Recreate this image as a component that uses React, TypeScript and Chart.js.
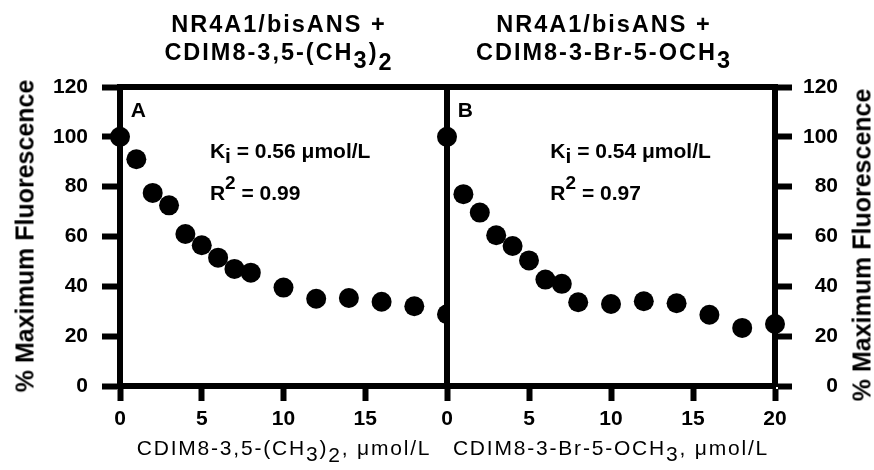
import React, { useEffect, useRef } from 'react';
import { Chart, registerables } from 'chart.js';

Chart.register(...registerables);

// CDIM8 concentration (µmol/L) and % max fluorescence
const concA = [0, 1, 2, 3, 4, 5, 6, 7, 8, 10, 12, 14, 16, 18, 20];
const fluorA = [100, 91, 77.5, 72.5, 61, 56.5, 51.5, 47, 45.5, 39.5, 35, 35.3, 33.8, 32, 28.8];

const concB = [0, 1, 2, 3, 4, 5, 6, 7, 8, 10, 12, 14, 16, 18, 20];
const fluorB = [100, 77, 69.6, 60.5, 56.2, 50.4, 42.7, 41, 33.6, 32.9, 34, 33.2, 28.6, 23.3, 24.9];

const yTicks = [0, 20, 40, 60, 80, 100, 120];
const xTicksA = [0, 5, 10, 15];
const xTicksB = [0, 5, 10, 15, 20];

const FONT = "'Liberation Sans', Arial, Helvetica, sans-serif";
const W = 874;
const H = 470;
const PLOT_TOP = 87;
const PLOT_BOTTOM = 386;
const LINE = 6;

Chart.defaults.font.family = FONT;

type Run = { t: string; dy?: number; size?: number };

function drawRuns(ctx: CanvasRenderingContext2D, runs: Run[], x: number, y: number, size: number) {
  let cx = x;
  runs.forEach((r) => {
    ctx.font = `bold ${r.size || size}px ${FONT}`;
    ctx.fillText(r.t, cx, y + (r.dy || 0));
    cx += ctx.measureText(r.t).width;
  });
}

interface PanelProps {
  side: 'left' | 'right';
  conc: number[];
  fluor: number[];
  xTicks: number[];
  letter: string;
  ki: string;
  r2: string;
  noteX: number;
  boxLeft: number;
  boxWidth: number;
  plotLeft: number;
  plotRight: number;
  labelRight: number;
}

const Panel: React.FC<PanelProps> = (p) => {
  const canvasRef = useRef<HTMLCanvasElement>(null);

  useEffect(() => {
    if (!canvasRef.current) return;
    const isLeft = p.side === 'left';
    const localLeft = p.plotLeft - p.boxLeft;
    const localRight = p.plotRight - p.boxLeft;
    const localLabelRight = p.labelRight - p.boxLeft;
    const tickFont = { family: FONT, size: 21, weight: 'bold' as const };

    // top line + the inner vertical edge of the box
    const framePlugin = {
      id: 'frame',
      afterDraw(chart: Chart) {
        const { ctx, chartArea: a } = chart;
        const edge = isLeft ? a.right : a.left;
        ctx.save();
        ctx.strokeStyle = '#000';
        ctx.lineWidth = LINE;
        ctx.lineCap = 'square';
        ctx.beginPath();
        ctx.moveTo(a.left, a.top);
        ctx.lineTo(a.right, a.top);
        ctx.moveTo(edge, a.top);
        ctx.lineTo(edge, a.bottom);
        ctx.stroke();
        ctx.restore();
      },
    };

    const notesPlugin = {
      id: 'notes',
      afterDatasetsDraw(chart: Chart) {
        const { ctx } = chart;
        const xs = chart.scales.x;
        const ys = chart.scales.y;
        ctx.save();
        ctx.fillStyle = '#000';
        ctx.textBaseline = 'alphabetic';
        ctx.textAlign = 'left';
        drawRuns(ctx, [{ t: p.letter }], xs.getPixelForValue(0.65), ys.getPixelForValue(108), 21);
        drawRuns(
          ctx,
          [{ t: 'K' }, { t: 'i', dy: 5 }, { t: ` = ${p.ki} \u03bcmol/L` }],
          xs.getPixelForValue(p.noteX),
          ys.getPixelForValue(91.5),
          21,
        );
        drawRuns(
          ctx,
          [{ t: 'R' }, { t: '2', dy: -11, size: 19 }, { t: ` = ${p.r2}` }],
          xs.getPixelForValue(p.noteX),
          ys.getPixelForValue(74.7),
          21,
        );
        ctx.restore();
      },
    };

    const chart = new Chart(canvasRef.current, {
      type: 'scatter',
      data: {
        datasets: [
          {
            data: p.conc.map((x, i) => ({ x, y: p.fluor[i] })),
            pointRadius: 10,
            pointHoverRadius: 10,
            pointBackgroundColor: '#000',
            pointBorderWidth: 0,
            clip: isLeft ? { left: false, top: false, right: 0, bottom: false } : false,
          },
        ],
      },
      options: {
        animation: false,
        responsive: false,
        events: [],
        layout: {
          padding: {
            top: PLOT_TOP,
            bottom: 0,
            left: isLeft ? 0 : localLeft,
            right: isLeft ? p.boxWidth - localRight : p.boxWidth - localLabelRight,
          },
        },
        scales: {
          x: {
            type: 'linear',
            min: 0,
            max: 20,
            afterBuildTicks: (s: any) => {
              s.ticks = p.xTicks.map((value) => ({ value }));
            },
            afterFit: (s: any) => {
              s.height = H - PLOT_BOTTOM;
            },
            ticks: { font: tickFont, color: '#000', padding: 6, maxRotation: 0, autoSkip: false },
            grid: { drawOnChartArea: false, tickLength: 15, tickWidth: LINE, tickColor: '#000' },
            border: { width: LINE, color: '#000' },
          },
          y: {
            type: 'linear',
            position: p.side,
            min: 0,
            max: 120,
            afterBuildTicks: (s: any) => {
              s.ticks = yTicks.map((value) => ({ value }));
            },
            afterFit: (s: any) => {
              s.width = isLeft ? localLeft : localLabelRight - localRight;
            },
            ticks: {
              font: tickFont,
              color: '#000',
              padding: isLeft ? 14 : 7,
              crossAlign: isLeft ? 'near' : 'far',
            },
            grid: { drawOnChartArea: false, tickLength: isLeft ? 18 : 17, tickWidth: LINE, tickColor: '#000' },
            border: { width: LINE, color: '#000' },
          },
        },
        plugins: { legend: { display: false }, tooltip: { enabled: false } },
      },
      plugins: [framePlugin, notesPlugin],
    });

    return () => {
      chart.destroy();
    };
  }, [p]);

  return (
    <canvas
      ref={canvasRef}
      width={p.boxWidth}
      height={H}
      style={{ position: 'absolute', left: p.boxLeft, top: 0, width: p.boxWidth, height: H }}
    />
  );
};

const sub = (t: string, dy: number) => <span style={{ position: 'relative', top: dy }}>{t}</span>;

const titleStyle = (center: number): React.CSSProperties => ({
  position: 'absolute',
  left: center - 160,
  width: 320,
  top: 11,
  textAlign: 'center',
  font: `bold 23.5px ${FONT}`,
  lineHeight: '27.5px',
  letterSpacing: 2,
  whiteSpace: 'nowrap',
  color: '#000',
});

const xTitleStyle = (center: number): React.CSSProperties => ({
  position: 'absolute',
  left: center - 200,
  width: 400,
  top: 437,
  textAlign: 'center',
  font: `21px ${FONT}`,
  lineHeight: '21px',
  letterSpacing: 1.8,
  whiteSpace: 'nowrap',
  color: '#000',
});

const yTitleStyle = (cx: number, cy: number): React.CSSProperties => ({
  position: 'absolute',
  left: cx,
  top: cy,
  transform: 'translate(-50%, -50%) rotate(-90deg)',
  font: `bold 25px ${FONT}`,
  lineHeight: '25px',
  whiteSpace: 'nowrap',
  color: '#000',
});

const panelA = {
  side: 'left' as const,
  conc: concA,
  fluor: fluorA,
  xTicks: xTicksA,
  letter: 'A',
  ki: '0.56',
  r2: '0.99',
  noteX: 5.5,
  boxLeft: 0,
  boxWidth: 470,
  plotLeft: 120,
  plotRight: 447,
  labelRight: 447,
};

const panelB = {
  side: 'right' as const,
  conc: concB,
  fluor: fluorB,
  xTicks: xTicksB,
  letter: 'B',
  ki: '0.54',
  r2: '0.97',
  noteX: 6.3,
  boxLeft: 430,
  boxWidth: 444,
  plotLeft: 447,
  plotRight: 775,
  labelRight: 838,
};

export default function App() {
  return (
    <div style={{ position: 'absolute', left: 0, top: 0, width: W, height: H, overflow: 'hidden', background: '#fff' }}>
      <Panel {...panelA} />
      <Panel {...panelB} />

      <div style={titleStyle(279)}>
        NR4A1/bisANS +<br />
        CDIM8-3,5-(CH{sub('3', 8)}){sub('2', 10)}
      </div>
      <div style={titleStyle(604)}>
        NR4A1/bisANS +<br />
        CDIM8-3-Br-5-OCH{sub('3', 8)}
      </div>

      <div style={xTitleStyle(284)}>
        CDIM8-3,5-(CH{sub('3', 6)}){sub('2', 7)}, {'\u03bc'}mol/L
      </div>
      <div style={xTitleStyle(611)}>
        CDIM8-3-Br-5-OCH{sub('3', 6)}, {'\u03bc'}mol/L
      </div>

      <div style={yTitleStyle(25, 236)}>% Maximum Fluorescence</div>
      <div style={yTitleStyle(862, 245)}>% Maximum Fluorescence</div>
    </div>
  );
}
